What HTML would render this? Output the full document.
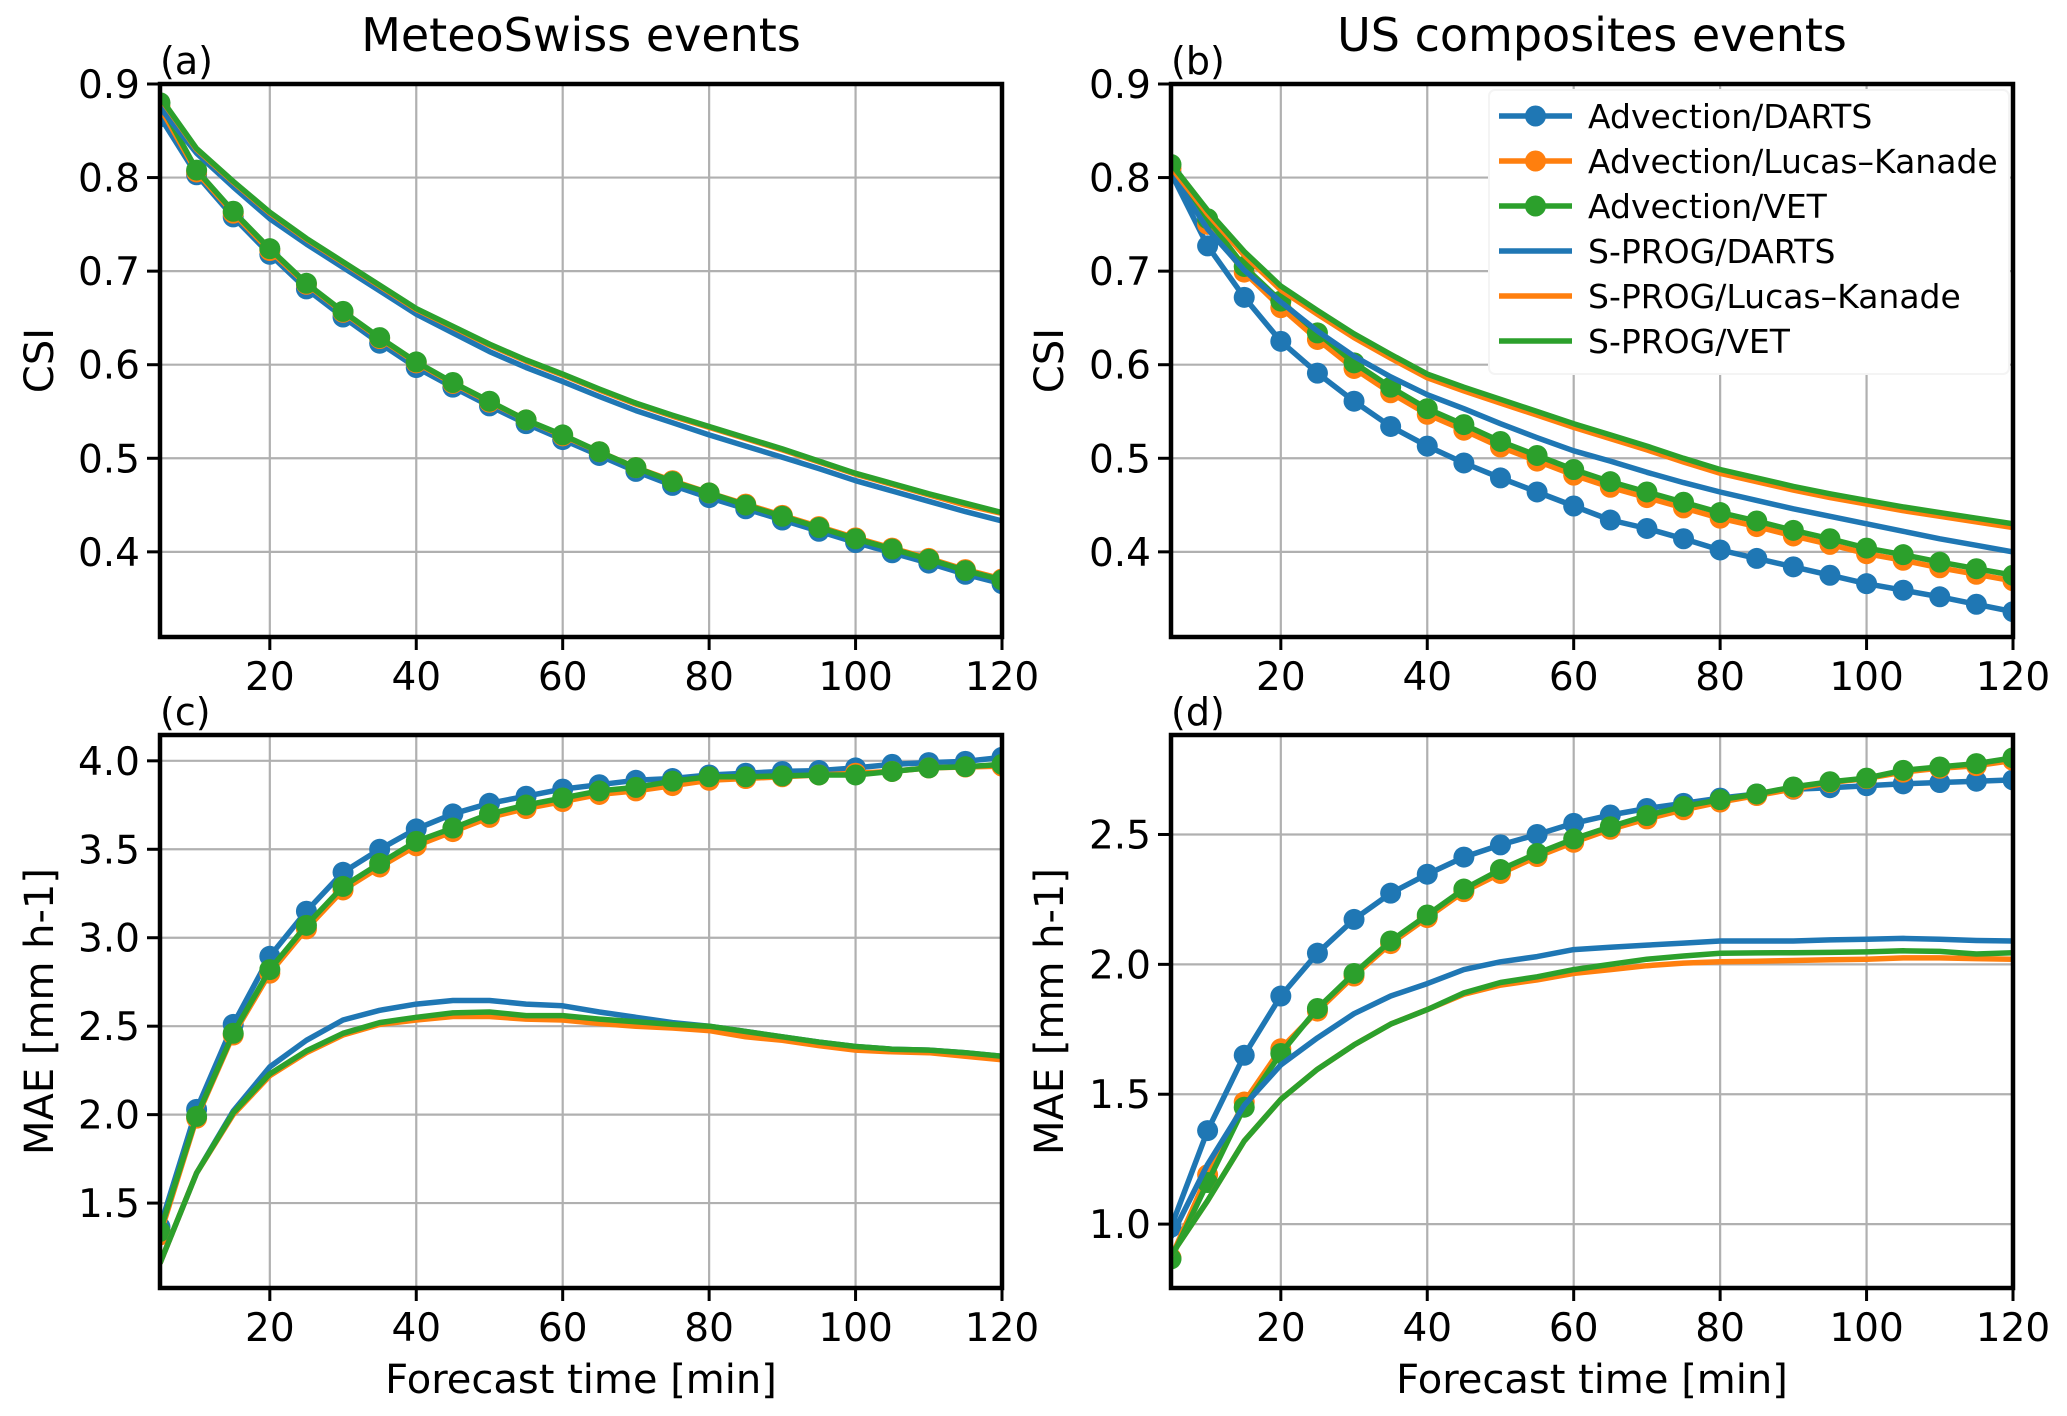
<!DOCTYPE html>
<html><head><meta charset="utf-8">
<style>
html,body{margin:0;padding:0;background:#fff;}
svg{display:block;font-family:"DejaVu Sans","Liberation Sans",sans-serif;}
</style></head>
<body>
<svg id="fig" width="2067" height="1416" viewBox="0 0 2067 1416" xmlns="http://www.w3.org/2000/svg"></svg>
<script>
const times = [5,10,15,20,25,30,35,40,45,50,55,60,65,70,75,80,85,90,95,100,105,110,115,120];
const xTicks = [20,40,60,80,100,120];
const seriesNames = ["Advection/DARTS","Advection/Lucas\u2013Kanade","Advection/VET","S-PROG/DARTS","S-PROG/Lucas\u2013Kanade","S-PROG/VET"];
const seriesColors = ["#1f77b4","#ff7f0e","#2ca02c","#1f77b4","#ff7f0e","#2ca02c"];
const seriesMarkers = [true,true,true,false,false,false];

// Panel (a) CSI MeteoSwiss
const aAdvDarts = [0.865,0.803,0.758,0.718,0.681,0.651,0.623,0.597,0.576,0.556,0.537,0.520,0.503,0.486,0.471,0.458,0.446,0.434,0.422,0.410,0.399,0.388,0.376,0.366];
const aAdvLK    = [0.875,0.806,0.762,0.722,0.686,0.656,0.628,0.602,0.580,0.560,0.541,0.524,0.507,0.490,0.476,0.463,0.451,0.439,0.427,0.415,0.404,0.393,0.381,0.371];
const aAdvVET   = [0.880,0.808,0.764,0.724,0.687,0.657,0.629,0.603,0.581,0.561,0.541,0.525,0.507,0.490,0.475,0.463,0.450,0.438,0.426,0.414,0.403,0.392,0.380,0.370];
const aSpDarts  = [0.875,0.826,0.790,0.756,0.729,0.704,0.679,0.654,0.634,0.614,0.597,0.582,0.566,0.551,0.538,0.525,0.513,0.501,0.489,0.476,0.465,0.454,0.443,0.433];
const aSpLK     = [0.885,0.830,0.795,0.762,0.734,0.709,0.684,0.659,0.640,0.621,0.604,0.589,0.573,0.558,0.545,0.533,0.521,0.509,0.496,0.483,0.472,0.461,0.450,0.441];
const aSpVET    = [0.886,0.831,0.796,0.763,0.735,0.710,0.685,0.660,0.641,0.622,0.605,0.590,0.574,0.559,0.546,0.534,0.522,0.510,0.497,0.484,0.473,0.462,0.452,0.442];
const aTicks = [0.4,0.5,0.6,0.7,0.8,0.9];

// Panel (b) CSI US
const bAdvDarts = [0.805,0.727,0.672,0.625,0.591,0.561,0.534,0.513,0.495,0.479,0.464,0.449,0.434,0.425,0.414,0.402,0.393,0.384,0.375,0.366,0.359,0.352,0.344,0.336];
const bAdvLK    = [0.810,0.750,0.699,0.661,0.627,0.596,0.570,0.547,0.530,0.512,0.497,0.482,0.469,0.458,0.447,0.436,0.427,0.417,0.408,0.398,0.391,0.383,0.376,0.369];
const bAdvVET   = [0.814,0.756,0.705,0.668,0.634,0.602,0.576,0.553,0.536,0.518,0.503,0.488,0.475,0.464,0.453,0.442,0.433,0.423,0.414,0.404,0.397,0.389,0.382,0.375];
const bSpDarts  = [0.805,0.745,0.701,0.667,0.636,0.609,0.587,0.568,0.553,0.537,0.522,0.508,0.497,0.485,0.474,0.464,0.455,0.446,0.438,0.430,0.422,0.414,0.407,0.400];
const bSpLK     = [0.811,0.761,0.717,0.680,0.654,0.629,0.607,0.586,0.572,0.559,0.546,0.533,0.521,0.509,0.496,0.484,0.475,0.466,0.458,0.451,0.444,0.438,0.432,0.426];
const bSpVET    = [0.815,0.765,0.721,0.684,0.658,0.633,0.611,0.590,0.576,0.563,0.550,0.537,0.525,0.513,0.500,0.488,0.479,0.470,0.462,0.455,0.448,0.442,0.436,0.430];
const bTicks = [0.4,0.5,0.6,0.7,0.8,0.9];

// Panel (c) MAE MeteoSwiss
const cAdvDarts = [1.365,2.03,2.51,2.895,3.15,3.37,3.50,3.615,3.70,3.76,3.80,3.84,3.865,3.89,3.90,3.92,3.93,3.94,3.945,3.96,3.98,3.99,3.997,4.02];
const cAdvLK    = [1.32,1.98,2.45,2.80,3.05,3.27,3.40,3.52,3.60,3.68,3.73,3.77,3.81,3.83,3.86,3.89,3.90,3.91,3.92,3.93,3.94,3.96,3.965,3.97];
const cAdvVET   = [1.34,1.99,2.46,2.82,3.07,3.29,3.42,3.545,3.62,3.70,3.75,3.79,3.83,3.85,3.885,3.91,3.91,3.915,3.92,3.92,3.94,3.96,3.967,3.98];
const cSpDarts  = [1.16,1.67,2.02,2.27,2.42,2.535,2.59,2.625,2.645,2.645,2.625,2.615,2.58,2.55,2.52,2.50,2.47,2.44,2.41,2.385,2.37,2.365,2.35,2.33];
const cSpLK     = [1.16,1.67,2.00,2.22,2.35,2.45,2.51,2.535,2.555,2.555,2.54,2.535,2.515,2.50,2.49,2.475,2.44,2.42,2.39,2.365,2.355,2.35,2.33,2.31];
const cSpVET    = [1.16,1.67,2.01,2.23,2.36,2.46,2.52,2.55,2.575,2.58,2.56,2.56,2.54,2.525,2.51,2.50,2.47,2.44,2.41,2.385,2.37,2.365,2.35,2.33];
const cTicks = [1.5,2.0,2.5,3.0,3.5,4.0];

// Panel (d) MAE US
const dAdvDarts = [0.988,1.36,1.65,1.878,2.043,2.173,2.274,2.347,2.413,2.46,2.50,2.543,2.575,2.60,2.62,2.64,2.656,2.674,2.68,2.688,2.695,2.70,2.705,2.71];
const dAdvLK    = [0.87,1.19,1.47,1.675,1.82,1.955,2.08,2.18,2.28,2.35,2.415,2.47,2.52,2.56,2.595,2.625,2.65,2.675,2.70,2.715,2.74,2.755,2.765,2.785];
const dAdvVET   = [0.866,1.16,1.45,1.657,1.83,1.965,2.09,2.19,2.29,2.365,2.427,2.483,2.53,2.573,2.608,2.634,2.656,2.683,2.703,2.717,2.747,2.76,2.773,2.795];
const dSpDarts  = [0.95,1.23,1.457,1.613,1.717,1.81,1.878,1.926,1.98,2.01,2.03,2.057,2.066,2.074,2.082,2.09,2.09,2.09,2.094,2.097,2.10,2.097,2.092,2.09];
const dSpLK     = [0.88,1.09,1.32,1.48,1.596,1.69,1.77,1.826,1.885,1.92,1.94,1.965,1.98,1.995,2.005,2.01,2.012,2.015,2.018,2.02,2.025,2.025,2.022,2.02];
const dSpVET    = [0.88,1.09,1.32,1.48,1.596,1.69,1.77,1.826,1.89,1.93,1.952,1.98,2.00,2.02,2.032,2.043,2.044,2.045,2.046,2.048,2.052,2.05,2.04,2.045];
const dTicks = [1.0,1.5,2.0,2.5];

const NS = "http://www.w3.org/2000/svg";
const svg = document.getElementById('fig');
function mk(tag, attrs, parent){
  const e = document.createElementNS(NS, tag);
  for (const k in attrs) e.setAttribute(k, attrs[k]);
  (parent||svg).appendChild(e);
  return e;
}

const panels = [
  {id:'a', left:160, right:1002, top:84, bottom:637, ymin:0.309, ymax:0.9, ticks:aTicks, dec:1, data:[aAdvDarts,aAdvLK,aAdvVET,aSpDarts,aSpLK,aSpVET], ylabel:'CSI', ylx:40, title:'MeteoSwiss events', xlabel:false},
  {id:'b', left:1171, right:2013, top:84, bottom:637, ymin:0.309, ymax:0.9, ticks:bTicks, dec:1, data:[bAdvDarts,bAdvLK,bAdvVET,bSpDarts,bSpLK,bSpVET], ylabel:'CSI', ylx:1050, title:'US composites events', xlabel:false, legend:true},
  {id:'c', left:160, right:1002, top:735, bottom:1288, ymin:1.02, ymax:4.146, ticks:cTicks, dec:1, data:[cAdvDarts,cAdvLK,cAdvVET,cSpDarts,cSpLK,cSpVET], ylabel:'MAE [mm h-1]', ylx:40, xlabel:true},
  {id:'d', left:1171, right:2013, top:735, bottom:1288, ymin:0.754, ymax:2.883, ticks:dTicks, dec:1, data:[dAdvDarts,dAdvLK,dAdvVET,dSpDarts,dSpLK,dSpVET], ylabel:'MAE [mm h-1]', ylx:1050, xlabel:true}
];

panels.forEach(p => {
  const g = mk('g', {});
  
  
  const xs = v => p.left + (v - 5) / (120 - 5) * (p.right - p.left);
  const ys = v => p.bottom - (v - p.ymin) / (p.ymax - p.ymin) * (p.bottom - p.top);
  const clipId = 'clip' + p.id;
  const cp = mk('clipPath', {id: clipId}, g);
  mk('rect', {x:p.left, y:p.top, width:p.right-p.left, height:p.bottom-p.top}, cp);

  xTicks.forEach(t => {
    const l = mk('line', {x1:xs(t), x2:xs(t), y1:p.top, y2:p.bottom, stroke:'#b0b0b0', 'stroke-width':2.2}, g);
    
    
  });
  p.ticks.forEach(t => {
    const l = mk('line', {x1:p.left, x2:p.right, y1:ys(t), y2:ys(t), stroke:'#b0b0b0', 'stroke-width':2.2}, g);
    
    
  });

  const sg = mk('g', {'clip-path':'url(#' + clipId + ')'}, g);
  p.data.forEach((arr, i) => {
    const pts = arr.map((v, j) => xs(times[j]).toFixed(1) + ',' + ys(v).toFixed(1)).join(' ');
    const pl = mk('polyline', {points:pts, fill:'none', stroke:seriesColors[i], 'stroke-width':5.5, 'stroke-linejoin':'round'}, sg);
    
    
    if (seriesMarkers[i]) {
      arr.forEach((v, j) => {
        const c = mk('circle', {cx:xs(times[j]), cy:ys(v), r:10.5, fill:seriesColors[i]}, sg);
        
        
      });
    }
  });

  const fr = mk('rect', {x:p.left, y:p.top, width:p.right-p.left, height:p.bottom-p.top, fill:'none', stroke:'#000', 'stroke-width':4.5}, g);
  
  

  xTicks.forEach(t => {
    mk('line', {x1:xs(t), x2:xs(t), y1:p.bottom, y2:p.bottom+13, stroke:'#000', 'stroke-width':3}, g);
    const tx = mk('text', {x:xs(t), y:p.bottom+53, 'text-anchor':'middle', 'font-size':39, fill:'#000'}, g);
    tx.textContent = t;
    
    
  });
  p.ticks.forEach(t => {
    mk('line', {x1:p.left-13, x2:p.left, y1:ys(t), y2:ys(t), stroke:'#000', 'stroke-width':3}, g);
    const tx = mk('text', {x:p.left-20, y:ys(t)+14, 'text-anchor':'end', 'font-size':39, fill:'#000'}, g);
    tx.textContent = t.toFixed(p.dec);
    
    
  });

  const pl = mk('text', {x:p.left, y:p.top-10, 'font-size':38, fill:'#000'}, g);
  pl.textContent = '(' + p.id + ')';
  
  

  const cy = (p.top + p.bottom) / 2;
  const yl = mk('text', {x:p.ylx, y:cy, 'text-anchor':'middle', 'font-size':40, fill:'#000', transform:'rotate(-90 ' + p.ylx + ' ' + cy + ')', 'dominant-baseline':'central'}, g);
  yl.textContent = p.ylabel;
  
  

  if (p.title) {
    const tt = mk('text', {x:(p.left+p.right)/2, y:51, 'text-anchor':'middle', 'font-size':46, fill:'#000'}, g);
    tt.textContent = p.title;
    
    
  }
  if (p.xlabel) {
    const xl = mk('text', {x:(p.left+p.right)/2, y:1393, 'text-anchor':'middle', 'font-size':40, fill:'#000'}, g);
    xl.textContent = 'Forecast time [min]';
    
    
  }

  if (p.legend) {
    const lg = mk('g', {}, g);
    
    
    mk('rect', {x:1489, y:90, width:520, height:284, fill:'#fff', stroke:'#f4f4f4', 'stroke-width':2, rx:6}, lg);
    const rowY = [116, 161, 206, 251, 296, 341];
    seriesNames.forEach((n, i) => {
      const e = mk('g', {}, lg);
      
      
      mk('line', {x1:1499, x2:1572, y1:rowY[i], y2:rowY[i], stroke:seriesColors[i], 'stroke-width':5.5}, e);
      if (seriesMarkers[i]) mk('circle', {cx:1535.5, cy:rowY[i], r:10.5, fill:seriesColors[i]}, e);
      const t = mk('text', {x:1588, y:rowY[i]+12, 'font-size':33, fill:'#000'}, e);
      t.textContent = n;
    });
  }
});
</script>
</body></html>
